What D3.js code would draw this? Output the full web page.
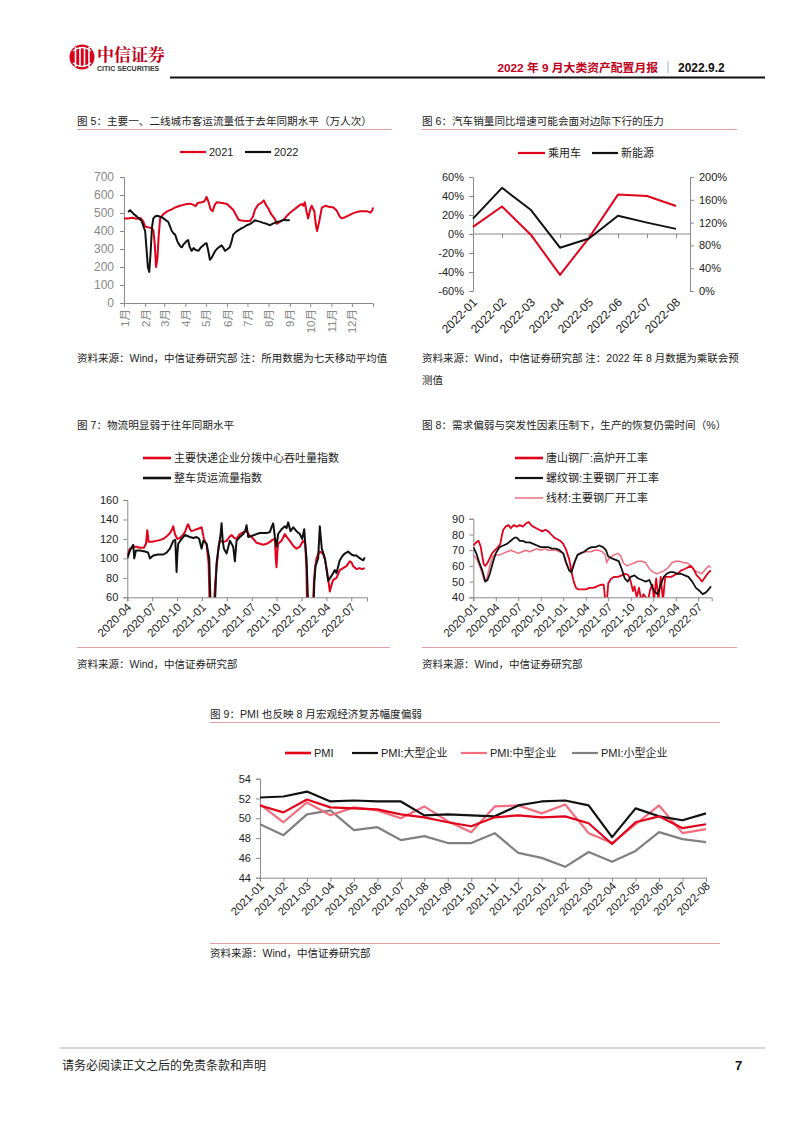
<!DOCTYPE html>
<html><head><meta charset="utf-8">
<script src="https://cdn.jsdelivr.net/npm/d3@7"></script>
<style>
body{margin:0;background:#fff;}
svg{display:block;font-family:"Liberation Sans","Noto Sans CJK SC",sans-serif;}
</style></head><body>
<svg id="page" width="802" height="1133"></svg>
<script>
// ---------------- DATA ----------------
// Chart 5: day-of-year, 7-day MA passenger flow (万人次)
const c5MonthLabels = ["1月","2月","3月","4月","5月","6月","7月","8月","9月","10月","11月","12月"];
const c5MonthStartDays = [0,31,59,90,120,151,181,212,243,273,304,334];
const c5YTicks = [0,100,200,300,400,500,600,700];
const c5Series2021 = [[0,470],[6,470],[12,474],[18,468],[24,472],[28,455],[31,425],[36,420],[40,418],[43,405],[45,330],[47,200],[49,250],[51,380],[53,470],[58,495],[64,510],[70,520],[76,532],[82,540],[90,548],[97,552],[102,545],[105,538],[108,555],[114,560],[118,565],[121,590],[124,560],[127,520],[130,510],[133,545],[136,560],[144,555],[151,550],[156,532],[160,518],[164,490],[168,462],[172,458],[178,456],[185,455],[189,480],[192,518],[197,548],[201,555],[205,570],[208,545],[212,522],[216,492],[221,468],[224,440],[229,452],[234,462],[239,485],[243,500],[248,515],[253,530],[258,545],[261,550],[263,540],[265,560],[268,500],[270,470],[273,520],[275,540],[279,510],[281,440],[283,400],[286,450],[290,530],[295,540],[300,535],[307,530],[312,512],[316,482],[319,470],[325,478],[331,490],[338,502],[346,510],[356,510],[361,502],[364,515],[365,530]];
const c5Series2022 = [[6,505],[9,515],[14,495],[19,480],[23,465],[26,455],[29,420],[31,400],[33,300],[35,200],[37,172],[39,280],[41,420],[43,470],[46,482],[49,485],[54,478],[58,470],[62,458],[65,450],[68,420],[70,400],[73,385],[75,380],[78,345],[80,330],[83,312],[85,310],[87,325],[89,332],[92,345],[94,350],[96,315],[99,290],[102,305],[105,295],[109,290],[113,310],[116,320],[119,330],[121,332],[123,300],[126,240],[129,255],[133,285],[136,300],[140,312],[143,320],[146,305],[148,290],[152,300],[155,310],[158,345],[160,380],[164,395],[168,405],[172,415],[176,422],[180,432],[185,440],[189,450],[192,460],[196,455],[199,452],[204,445],[209,440],[214,432],[219,442],[224,450],[229,455],[234,462],[238,460],[243,460]];

// Chart 6: monthly YoY (%)
const c6Months = ["2022-01","2022-02","2022-03","2022-04","2022-05","2022-06","2022-07","2022-08"];
const c6Passenger = [7.5, 29, -1, -43, -4, 41.5, 40, 29.5];
const c6NEV = [127, 181, 142, 76, 92, 132, 120, 109];
const c6LeftTicks = [-60,-40,-20,0,20,40,60];
const c6RightTicks = [0,40,80,120,160,200];

// Chart 7: months since 2020-04, index values
const c7TickLabels = ["2020-04","2020-07","2020-10","2021-01","2021-04","2021-07","2021-10","2022-01","2022-04","2022-07"];
const c7YTicks = [60,80,100,120,140,160];
const c7Express = [[0,102],[0.2,108],[0.35,110],[0.7,112],[1.1,112],[1.5,111],[2.0,111],[2.25,115],[2.41,129],[2.57,117],[3.0,117],[3.5,118],[4.0,119],[4.34,120],[4.8,123],[5.14,126],[5.4,130],[5.54,133],[5.74,125],[6.02,120],[6.35,121],[6.7,124],[6.95,127],[7.2,133],[7.35,135],[7.55,130],[7.75,128],[8.1,129],[8.35,130],[8.7,131],[8.96,132],[9.24,120],[9.56,114],[9.8,95],[9.96,40],[10.36,40],[10.6,75],[10.76,90],[11.0,112],[11.16,118],[11.6,117],[11.97,118],[12.3,122],[12.57,124],[12.9,121],[13.17,120],[13.57,125],[14.0,127],[14.38,128],[14.7,124],[14.98,122],[15.3,119],[15.58,116],[16.0,115],[16.39,114],[16.8,115],[17.19,117],[17.5,119],[17.79,120],[17.9,100],[17.99,91],[18.1,108],[18.19,115],[18.59,118],[19.0,125],[19.3,121],[19.6,118],[20.0,113],[20.4,110],[20.8,112],[21.2,118],[21.45,115],[21.6,90],[21.69,40],[22.33,40],[22.5,75],[22.61,88],[22.81,100],[23.0,104],[23.21,107],[23.61,105],[23.85,98],[24.02,90],[24.2,80],[24.42,66],[24.6,72],[24.82,78],[25.22,80],[25.62,88],[26.02,90],[26.43,92],[26.83,97],[27.03,96],[27.23,92],[27.63,89],[28.0,90],[28.3,89],[28.63,90]];
const c7Truck = [[0,100],[0.32,108],[0.72,114],[0.84,100],[1.04,108],[1.5,108],[2.13,107],[2.5,106],[2.73,100],[3.13,103],[3.7,104],[4.34,104],[4.74,106],[5.14,110],[5.54,118],[5.78,119],[5.88,100],[5.94,86],[6.04,105],[6.14,115],[6.55,120],[6.95,124],[7.25,123],[7.55,122],[8.0,121],[8.35,122],[8.67,120],[8.96,110],[9.16,118],[9.56,115],[9.88,100],[10.08,40],[10.48,40],[10.65,70],[10.76,95],[11.08,115],[11.25,125],[11.37,136],[11.5,118],[11.65,110],[11.97,105],[12.37,118],[12.77,112],[12.97,97],[13.17,118],[13.57,122],[13.98,125],[14.2,128],[14.38,134],[14.58,122],[14.98,123],[15.3,124],[15.58,125],[16.0,126],[16.39,126],[16.8,126],[17.19,127],[17.39,132],[17.59,136],[17.79,122],[17.99,112],[18.19,125],[18.59,130],[19.0,133],[19.2,131],[19.4,137],[19.68,128],[20.0,132],[20.4,128],[20.8,125],[21.08,120],[21.33,130],[21.5,110],[21.61,100],[21.85,40],[22.41,40],[22.55,75],[22.69,92],[23.01,100],[23.1,115],[23.21,133],[23.45,110],[23.82,100],[24.0,90],[24.22,77],[24.62,82],[25.02,88],[25.22,85],[25.62,98],[25.9,102],[26.22,105],[26.63,107],[27.03,104],[27.3,103],[27.63,103],[27.9,101],[28.23,99],[28.45,98],[28.63,101]];

// Chart 8: months since 2020-01, utilization rate (%)
const c8TickLabels = ["2020-01","2020-04","2020-07","2020-10","2021-01","2021-04","2021-07","2021-10","2022-01","2022-04","2022-07"];
const c8YTicks = [40,50,60,70,80,90];
const c8Tangshan = [[0,73],[0.4,75],[0.7,76],[1.0,72],[1.2,66],[1.4,61],[1.6,60],[1.9,62],[2.2,65],[2.5,68],[2.9,70],[3.3,72],[3.6,74],[3.8,79],[4.0,83],[4.3,85],[4.7,86],[5.0,84],[5.4,86],[5.8,85],[6.2,86],[6.6,85],[7.0,87],[7.4,88],[7.7,86],[8.0,85],[8.4,84],[8.8,83],[9.2,82],[9.6,83],[10.0,82],[10.4,80],[10.8,78],[11.2,77],[11.6,76],[12.0,74],[12.4,70],[12.8,64],[13.1,56],[13.4,50],[13.7,46],[14.0,45],[14.5,45],[15.0,45],[15.5,46],[16.0,46],[16.5,47],[17.0,48],[17.4,48],[17.6,38],[17.8,36],[18.0,49],[18.4,52],[18.8,53],[19.3,53],[19.8,54],[20.3,55],[20.7,54],[21.0,50],[21.3,44],[21.5,47],[21.8,40],[22.1,46],[22.4,38],[22.7,42],[23.0,40],[23.3,38],[23.6,45],[23.9,48],[24.1,38],[24.4,52],[24.7,38],[25.0,53],[25.3,38],[25.6,53],[26.0,53],[26.4,53],[26.8,54],[27.2,55],[27.7,57],[28.2,58],[28.6,59],[29.0,60],[29.4,58],[29.8,54],[30.2,52],[30.5,50],[30.8,52],[31.1,54],[31.4,56],[31.7,57]];
const c8Rebar = [[0,72],[0.4,68],[0.8,62],[1.2,57],[1.6,50],[1.9,51],[2.2,55],[2.6,62],[3.0,68],[3.5,72],[4.0,73],[4.5,74],[5.0,76],[5.5,78],[5.8,78],[6.2,76],[6.6,76],[7.0,75],[7.5,75],[8.0,74],[8.5,73],[9.0,72],[9.5,72],[10.0,72],[10.5,71],[11.0,71],[11.5,70],[12.0,68],[12.4,62],[12.8,57],[13.1,56],[13.5,62],[13.9,67],[14.3,68],[14.8,69],[15.3,71],[15.8,72],[16.3,72],[16.8,73],[17.3,72],[17.7,70],[18.0,66],[18.4,65],[18.9,64],[19.4,63],[19.8,58],[20.2,52],[20.6,50],[21.0,53],[21.5,54],[22.0,52],[22.5,51],[23.0,50],[23.5,51],[23.9,46],[24.3,43],[24.6,42],[25.0,48],[25.4,53],[25.8,55],[26.2,56],[26.7,56],[27.2,55],[27.7,55],[28.2,54],[28.7,53],[29.2,50],[29.7,46],[30.2,44],[30.6,42],[31.0,43],[31.4,45],[31.7,47]];
const c8Wire = [[0,67],[0.5,64],[1.0,58],[1.5,50],[1.8,52],[2.2,60],[2.6,66],[3.0,67],[3.5,67],[4.0,68],[4.5,69],[5.0,70],[5.5,69],[6.0,68],[6.5,69],[7.0,70],[7.5,69],[8.0,70],[8.5,71],[9.0,70],[9.5,71],[10.0,70],[10.5,70],[11.0,70],[11.5,69],[12.0,68],[12.3,62],[12.7,58],[13.0,57],[13.4,62],[13.8,66],[14.2,68],[14.7,69],[15.2,69],[15.7,69],[16.2,70],[16.7,70],[17.2,69],[17.6,67],[17.8,62],[18.0,64],[18.4,66],[18.8,67],[19.3,68],[19.7,66],[20.0,62],[20.5,60],[21.0,61],[21.5,62],[22.0,63],[22.5,63],[23.0,62],[23.5,58],[24.0,56],[24.5,55],[25.0,56],[25.5,57],[26.0,59],[26.5,62],[27.0,63],[27.5,63],[28.0,62],[28.5,62],[29.0,60],[29.5,57],[30.0,56],[30.5,55],[31.0,58],[31.4,60],[31.7,59]];

// Chart 9: PMI
const c9Months = ["2021-01","2021-02","2021-03","2021-04","2021-05","2021-06","2021-07","2021-08","2021-09","2021-10","2021-11","2021-12","2022-01","2022-02","2022-03","2022-04","2022-05","2022-06","2022-07","2022-08"];
const c9PMI   = [51.3,50.6,51.9,51.1,51.0,50.9,50.4,50.1,49.6,49.2,50.1,50.3,50.1,50.2,49.5,47.4,49.6,50.2,49.0,49.4];
const c9Large = [52.1,52.2,52.7,51.7,51.8,51.7,51.7,50.3,50.4,50.3,50.2,51.3,51.7,51.8,51.3,48.1,51.0,50.2,49.8,50.5];
const c9Mid   = [51.4,49.6,51.6,50.3,51.1,50.8,50.0,51.2,49.7,48.6,51.2,51.3,50.5,51.4,48.5,47.5,49.4,51.3,48.5,48.9];
const c9Small = [49.4,48.3,50.4,50.8,48.8,49.1,47.8,48.2,47.5,47.5,48.5,46.5,46.0,45.1,46.6,45.6,46.7,48.6,47.9,47.6];
const c9YTicks = [44,46,48,50,52,54];

// ---------------- STYLE ----------------
const RED = "#e2001a", PINK = "#f26d7d", GRAYL = "#808080", INK = "#222";
const svg = d3.select("#page");

function txt(x, y, s, o = {}) {
  return svg.append("text").attr("x", x).attr("y", y).text(s)
    .attr("font-size", o.size || 10.5).attr("fill", o.fill || INK)
    .attr("font-weight", o.weight || "normal")
    .attr("text-anchor", o.anchor || "start");
}
function hline(x1, x2, y, color, w) {
  svg.append("line").attr("x1", x1).attr("x2", x2).attr("y1", y).attr("y2", y)
    .attr("stroke", color).attr("stroke-width", w);
}
function legend(x, y, color, w, label, len = 27) {
  hline(x, x + len, y, color, w);
  txt(x + len + 3, y + 4, label, { size: 11 });
}
function styleAxis(g, o = {}) {
  g.select(".domain").attr("stroke", o.axis || "#8a8a8a");
  g.selectAll(".tick line").attr("stroke", o.axis || "#8a8a8a");
  g.selectAll(".tick text").attr("fill", o.fill || INK).style("font-size", (o.size || 11) + "px")
    .style("font-family", '"Liberation Sans","Noto Sans CJK SC",sans-serif');
}
let clipId = 0;
function clip(x0, y0, x1, y1) {
  const id = "clip" + (clipId++);
  svg.append("clipPath").attr("id", id).append("rect")
    .attr("x", x0).attr("y", y0).attr("width", x1 - x0).attr("height", y1 - y0);
  return svg.append("g").attr("clip-path", `url(#${id})`);
}
function path(g, data, x, y, color, w) {
  g.append("path").datum(data)
    .attr("d", d3.line().x(d => x(d[0])).y(d => y(d[1])))
    .attr("fill", "none").attr("stroke", color).attr("stroke-width", w)
    .attr("stroke-linejoin", "round");
}
function rotLabels(labels, xs, yTop, size = 11.5) {
  labels.forEach((l, i) => {
    svg.append("text").text(l)
      .attr("transform", `translate(${xs[i] + 2},${yTop}) rotate(-45)`)
      .attr("text-anchor", "end").attr("dy", "0.35em")
      .attr("font-size", size).attr("fill", INK);
  });
}

// ---------------- HEADER ----------------
const logo = svg.append("g");
logo.append("circle").attr("cx", 82).attr("cy", 57).attr("r", 12.5).attr("fill", "#d7001b");
[[-6.5,0],[-2,0],[2.5,0],[7,0]].forEach(p => {
  logo.append("line").attr("x1", 82 + p[0]).attr("x2", 82 + p[0]).attr("y1", 47).attr("y2", 67)
    .attr("stroke", "#fff").attr("stroke-width", 1.6);
});
logo.append("path").attr("d", "M73,51 Q82,44 91,51").attr("fill", "none").attr("stroke", "#fff").attr("stroke-width", 1.5);
logo.append("path").attr("d", "M73,63 Q82,70 91,63").attr("fill", "none").attr("stroke", "#fff").attr("stroke-width", 1.5);
txt(97, 61, "中信证券", { size: 17, weight: "bold", fill: "#c0001a" }).style("font-family", '"Noto Serif CJK SC","Noto Sans CJK SC",serif');
txt(97, 70.5, "CITIC SECURITIES", { size: 7, weight: "bold", fill: "#333" });
txt(658, 72, "2022 年 9 月大类资产配置月报", { size: 11.8, weight: "bold", fill: "#c0001a", anchor: "end" });
svg.append("line").attr("x1", 668).attr("x2", 668).attr("y1", 61).attr("y2", 73).attr("stroke", "#999").attr("stroke-width", 0.8);
txt(678, 72, "2022.9.2", { size: 12, weight: "bold", fill: "#111" });
hline(170, 765, 77.5, "#111", 2);

// ---------------- CHART 5 ----------------
{
  txt(77, 125, "图 5：主要一、二线城市客运流量低于去年同期水平（万人次）", { size: 10.6 });
  hline(77, 392, 129.5, "#e3a0a6", 1);
  legend(180, 152, RED, 2.2, "2021", 26);
  legend(245, 152, "#111", 2.2, "2022", 26);
  const x = d3.scaleLinear().domain([0, 365]).range([124, 373]);
  const y = d3.scaleLinear().domain([0, 700]).range([303, 177]);
  const ga = svg.append("g").attr("transform", "translate(124,0)")
    .call(d3.axisLeft(y).tickValues(c5YTicks).tickSize(4).tickPadding(6));
  styleAxis(ga, { fill: "#888", size: 12 });
  const gb = svg.append("g").attr("transform", "translate(0,303)")
    .call(d3.axisBottom(x).tickValues(c5MonthStartDays).tickSize(4).tickFormat((d, i) => c5MonthLabels[i]));
  styleAxis(gb, { fill: "#888", size: 11.5 });
  gb.selectAll(".tick text").attr("transform", "rotate(-90)").attr("x", -6).attr("y", 0)
    .attr("dy", "0.35em").style("text-anchor", "end");
  const g = clip(124, 170, 380, 303);
  path(g, c5Series2021, x, y, RED, 2);
  path(g, c5Series2022, x, y, "#111", 2);
  txt(77, 362, "资料来源：Wind，中信证券研究部 注：所用数据为七天移动平均值", { size: 10.5 });
}

// ---------------- CHART 6 ----------------
{
  txt(422, 125, "图 6：汽车销量同比增速可能会面对边际下行的压力", { size: 10.6 });
  hline(422, 737, 129.5, "#e3a0a6", 1);
  legend(518, 153, RED, 2.2, "乘用车", 27);
  legend(592, 153, "#111", 2.2, "新能源", 26);
  const x = d3.scalePoint().domain(c6Months).range([473, 676]);
  const yl = d3.scaleLinear().domain([-60, 60]).range([291, 177]);
  const yr = d3.scaleLinear().domain([0, 200]).range([291, 177]);
  const gl = svg.append("g").attr("transform", "translate(473,0)")
    .call(d3.axisLeft(yl).tickValues(c6LeftTicks).tickSize(4).tickPadding(5).tickFormat(d => d + "%"));
  styleAxis(gl);
  const gr = svg.append("g").attr("transform", "translate(690,0)")
    .call(d3.axisRight(yr).tickValues(c6RightTicks).tickSize(4).tickPadding(5).tickFormat(d => d + "%"));
  styleAxis(gr);
  const gz = svg.append("g").attr("transform", `translate(0,${yl(0)})`)
    .call(d3.axisBottom(x).tickSize(4).tickFormat(""));
  styleAxis(gz);
  gz.select(".domain").attr("d", `M473,0H690`);
  path(svg, c6Months.map((m, i) => [m, c6Passenger[i]]), x, yl, RED, 2);
  path(svg, c6Months.map((m, i) => [m, c6NEV[i]]), x, yr, "#111", 2);
  rotLabels(c6Months, c6Months.map(m => x(m)), 300, 12);
  txt(422, 362, "资料来源：Wind，中信证券研究部 注：2022 年 8 月数据为乘联会预", { size: 10.5 });
  txt(422, 384, "测值", { size: 10.5 });
}

// ---------------- CHART 7 ----------------
{
  txt(77, 429, "图 7：物流明显弱于往年同期水平", { size: 10.6 });
  legend(143, 458, RED, 2.6, "主要快递企业分拨中心吞吐量指数", 28);
  legend(143, 478, "#111", 2.6, "整车货运流量指数", 28);
  const x = d3.scaleLinear().domain([0, 28.9]).range([127.3, 367]);
  const y = d3.scaleLinear().domain([60, 160]).range([597.3, 500]);
  const tickMonths = c7TickLabels.map((d, i) => i * 3);
  const ga = svg.append("g").attr("transform", "translate(127.3,0)")
    .call(d3.axisLeft(y).tickValues(c7YTicks).tickSize(4).tickPadding(5));
  styleAxis(ga);
  const gb = svg.append("g").attr("transform", "translate(0,597.3)")
    .call(d3.axisBottom(x).tickValues(tickMonths).tickSize(4).tickFormat(""));
  styleAxis(gb);
  const g = clip(127.3, 490, 372, 597.3);
  path(g, c7Express, x, y, RED, 2);
  path(g, c7Truck, x, y, "#111", 2);
  rotLabels(c7TickLabels, tickMonths.map(m => x(m)), 605, 11.5);
  hline(77, 390, 647.5, "#e3a0a6", 1);
  txt(77, 668, "资料来源：Wind，中信证券研究部", { size: 10.5 });
}

// ---------------- CHART 8 ----------------
{
  txt(422, 429, "图 8：需求偏弱与突发性因素压制下，生产的恢复仍需时间（%）", { size: 10.6 });
  legend(515, 458, RED, 2.6, "唐山钢厂:高炉开工率", 28);
  legend(515, 478, "#111", 2.2, "螺纹钢:主要钢厂开工率", 28);
  legend(515, 498, PINK, 1.5, "线材:主要钢厂开工率", 28);
  const x = d3.scaleLinear().domain([0, 31.8]).range([473.3, 711.7]);
  const y = d3.scaleLinear().domain([40, 90]).range([597.3, 518.8]);
  const tickMonths = c8TickLabels.map((d, i) => i * 3);
  const ga = svg.append("g").attr("transform", "translate(473.3,0)")
    .call(d3.axisLeft(y).tickValues(c8YTicks).tickSize(4).tickPadding(5));
  styleAxis(ga);
  const gb = svg.append("g").attr("transform", "translate(0,597.3)")
    .call(d3.axisBottom(x).tickValues(tickMonths).tickSize(4).tickFormat(""));
  styleAxis(gb);
  const g = clip(473.3, 510, 715, 597.3);
  path(g, c8Wire, x, y, PINK, 1.5);
  path(g, c8Tangshan, x, y, RED, 1.8);
  path(g, c8Rebar, x, y, "#111", 1.8);
  rotLabels(c8TickLabels, tickMonths.map(m => x(m)), 605, 11.5);
  hline(422, 737, 647.5, "#e3a0a6", 1);
  txt(422, 668, "资料来源：Wind，中信证券研究部", { size: 10.5 });
}

// ---------------- CHART 9 ----------------
{
  txt(210, 718, "图 9：PMI 也反映 8 月宏观经济复苏幅度偏弱", { size: 10.6 });
  hline(210, 720, 722.5, "#e3a0a6", 1);
  legend(285, 753, RED, 2.6, "PMI", 26);
  legend(352, 753, "#111", 2.2, "PMI:大型企业", 26);
  legend(461, 753, PINK, 2.2, "PMI:中型企业", 26);
  legend(572, 753, "#808080", 2.2, "PMI:小型企业", 26);
  const x = d3.scalePoint().domain(c9Months).range([260, 706]);
  const y = d3.scaleLinear().domain([44, 54]).range([877.7, 778.7]);
  const ga = svg.append("g").attr("transform", "translate(260,0)")
    .call(d3.axisLeft(y).tickValues(c9YTicks).tickSize(4).tickPadding(5));
  styleAxis(ga);
  const gb = svg.append("g").attr("transform", "translate(0,877.7)")
    .call(d3.axisBottom(x).tickSize(4).tickFormat(""));
  styleAxis(gb);
  const ser = (arr) => c9Months.map((m, i) => [m, arr[i]]);
  path(svg, ser(c9Small), x, y, "#808080", 2.2);
  path(svg, ser(c9Mid), x, y, PINK, 2.2);
  path(svg, ser(c9Large), x, y, "#111", 2.2);
  path(svg, ser(c9PMI), x, y, RED, 2.2);
  rotLabels(c9Months, c9Months.map(m => x(m)), 884, 11.3);
  hline(210, 720, 943.5, "#e3a0a6", 1);
  txt(210, 957, "资料来源：Wind，中信证券研究部", { size: 10.5 });
}

// ---------------- FOOTER ----------------
hline(60, 765, 1048, "#aaa", 1);
txt(62, 1070, "请务必阅读正文之后的免责条款和声明", { size: 12 });
txt(735, 1070, "7", { size: 13, weight: "bold", fill: "#111" });
</script></body></html>
